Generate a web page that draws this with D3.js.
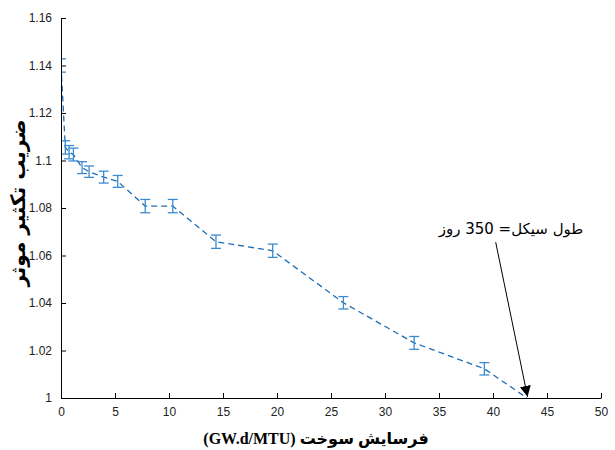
<!DOCTYPE html>
<html><head><meta charset="utf-8">
<script src="https://cdn.jsdelivr.net/npm/d3@7/dist/d3.min.js"></script>
<style>body{margin:0;background:#fff}svg{display:block}</style>
</head><body><svg id="c" width="615" height="450"></svg>
<script>
const burnup = [0, 0.4, 0.75, 1.15, 1.95, 2.6, 3.95, 5.25, 7.8, 10.35, 14.35, 19.6, 26.15, 32.7, 39.2, 43.15];
const keff   = [1.140, 1.1055, 1.1035, 1.1025, 1.0970, 1.0953, 1.0930, 1.0912, 1.0808, 1.0808, 1.0658, 1.0620, 1.0401, 1.0232, 1.0123, 1.000];
const errs   = [0.0028, 0.0028, 0.0028, 0.0027, 0.0025, 0.0024, 0.0025, 0.0025, 0.0028, 0.0028, 0.0028, 0.0028, 0.0026, 0.0027, 0.0026, 0];
const xTicks = [0,5,10,15,20,25,30,35,40,45,50];
const yTicks = [1,1.02,1.04,1.06,1.08,1.1,1.12,1.14,1.16];
const yTickLabels = ["1","1.02","1.04","1.06","1.08","1.1","1.12","1.14","1.16"];
const xLabel = "فرسایش سوخت (GW.d/MTU)";
const yLabel = "ضریب تکثیر موثر";
const noteText = "طول سیکل= 350 روز";
const noteFrom = [40.25, 1.0656];
const noteTo = [43.2, 1.0005];

const svg = d3.select("#c");
const L=61, R=601, T=18, B=398;
const x = d3.scaleLinear().domain([0,50]).range([L,R]);
const y = d3.scaleLinear().domain([1,1.16]).range([B,T]);

const defs = svg.append("defs");
defs.append("clipPath").attr("id","clip")
  .append("rect").attr("x",L).attr("y",T-10).attr("width",R-L+10).attr("height",B-T+10);
defs.append("marker").attr("id","arr").attr("viewBox","0 0 10 10")
  .attr("refX",10).attr("refY",5).attr("markerWidth",11).attr("markerHeight",11)
  .attr("markerUnits","userSpaceOnUse").attr("orient","auto")
  .append("path").attr("d","M0,0 L10,5 L0,10 z").attr("fill","#000");

const data = burnup.map((b,i)=>({b, k:keff[i], e:errs[i]}));
const g = svg.append("g").attr("clip-path","url(#clip)");

g.append("path").datum(data)
  .attr("d", d3.line().x(d=>x(d.b)).y(d=>y(d.k)))
  .attr("fill","none").attr("stroke","#1f6cb5").attr("stroke-width",1.3)
  .attr("stroke-dasharray","6,4");

const eb = g.selectAll(".eb").data(data.filter(d=>d.e>0)).enter().append("g")
  .attr("stroke","#3b8bd0").attr("stroke-width",1.3).attr("fill","none");
eb.append("line").attr("x1",d=>x(d.b)).attr("x2",d=>x(d.b))
  .attr("y1",d=>y(d.k+d.e)).attr("y2",d=>y(d.k-d.e));
eb.append("line").attr("x1",d=>x(d.b)-5).attr("x2",d=>x(d.b)+5)
  .attr("y1",d=>y(d.k+d.e)).attr("y2",d=>y(d.k+d.e));
eb.append("line").attr("x1",d=>x(d.b)-5).attr("x2",d=>x(d.b)+5)
  .attr("y1",d=>y(d.k-d.e)).attr("y2",d=>y(d.k-d.e));

const xa = svg.append("g").attr("transform",`translate(0,${B})`)
  .call(d3.axisBottom(x).tickValues(xTicks).tickSizeInner(-5).tickSizeOuter(0).tickPadding(9));
const ya = svg.append("g").attr("transform",`translate(${L},0)`)
  .call(d3.axisLeft(y).tickValues(yTicks).tickFormat((d,i)=>yTickLabels[i]).tickSizeInner(-5).tickSizeOuter(0).tickPadding(9));
[xa,ya].forEach(a=>{
  a.selectAll("text").attr("font-family","Liberation Sans, Arial, sans-serif").attr("font-size",12).attr("fill","#222");
  a.selectAll("line,path").attr("stroke","#000");
});

svg.append("text").attr("x",(L+R)/2-15).attr("y",444).attr("text-anchor","middle")
  .attr("direction","rtl")
  .attr("font-family","Liberation Serif, DejaVu Sans, serif").attr("font-weight","bold").attr("font-size",16)
  .attr("fill","#000").text(xLabel);

svg.append("text").attr("transform",`translate(25,203) rotate(-90)`).attr("text-anchor","middle")
  .attr("direction","rtl")
  .attr("font-family","DejaVu Sans, sans-serif").attr("font-weight","bold").attr("font-size",20)
  .attr("fill","#000").text(yLabel);

svg.append("text").attr("x",511).attr("y",234).attr("text-anchor","middle")
  .attr("direction","rtl")
  .attr("font-family","DejaVu Sans, Liberation Sans, sans-serif").attr("font-size",15)
  .attr("fill","#000").text(noteText);

svg.append("line").attr("x1",x(noteFrom[0])).attr("y1",y(noteFrom[1]))
  .attr("x2",x(noteTo[0])).attr("y2",y(noteTo[1]))
  .attr("stroke","#000").attr("stroke-width",1).attr("marker-end","url(#arr)");
</script></body></html>
